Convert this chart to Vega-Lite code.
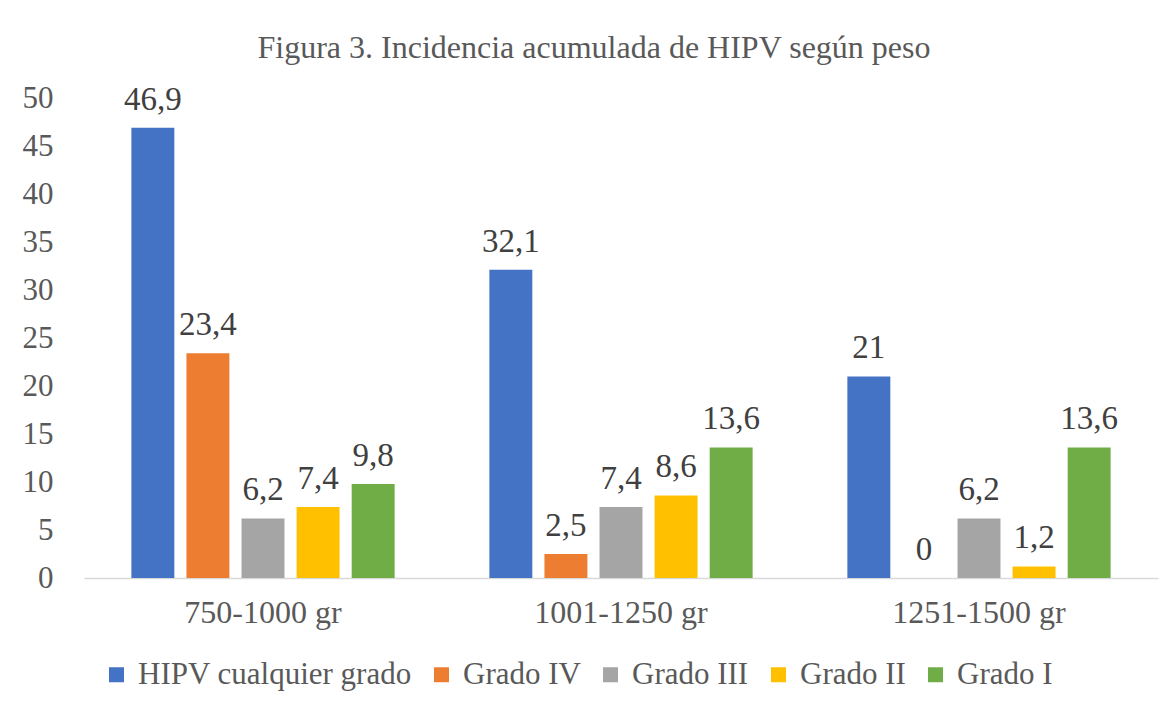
{
  "$schema": "https://vega.github.io/schema/vega-lite/v6.json",
  "width": 1074,
  "height": 480,
  "autosize": {"type": "none"},
  "padding": {"left": 84, "top": 98, "right": 17, "bottom": 134},
  "background": "white",
  "config": {
    "locale": {"number": {"decimal": ",", "thousands": ".", "grouping": [3], "currency": ["", " €"]}},
    "view": {"stroke": null},
    "font": "Liberation Serif"
  },
  "title": {
    "text": "Figura 3. Incidencia acumulada de HIPV según peso",
    "font": "Liberation Serif",
    "fontSize": 32,
    "fontWeight": "normal",
    "color": "#595959",
    "anchor": "middle",
    "dx": -27,
    "offset": 17
  },
  "data": {
    "values": [
      {"peso": "750-1000 gr", "serie": "HIPV cualquier grado", "valor": 46.9},
      {"peso": "750-1000 gr", "serie": "Grado IV", "valor": 23.4},
      {"peso": "750-1000 gr", "serie": "Grado III", "valor": 6.2},
      {"peso": "750-1000 gr", "serie": "Grado II", "valor": 7.4},
      {"peso": "750-1000 gr", "serie": "Grado I", "valor": 9.8},
      {"peso": "1001-1250 gr", "serie": "HIPV cualquier grado", "valor": 32.1},
      {"peso": "1001-1250 gr", "serie": "Grado IV", "valor": 2.5},
      {"peso": "1001-1250 gr", "serie": "Grado III", "valor": 7.4},
      {"peso": "1001-1250 gr", "serie": "Grado II", "valor": 8.6},
      {"peso": "1001-1250 gr", "serie": "Grado I", "valor": 13.6},
      {"peso": "1251-1500 gr", "serie": "HIPV cualquier grado", "valor": 21},
      {"peso": "1251-1500 gr", "serie": "Grado IV", "valor": 0},
      {"peso": "1251-1500 gr", "serie": "Grado III", "valor": 6.2},
      {"peso": "1251-1500 gr", "serie": "Grado II", "valor": 1.2},
      {"peso": "1251-1500 gr", "serie": "Grado I", "valor": 13.6}
    ]
  },
  "encoding": {
    "x": {
      "field": "peso",
      "type": "nominal",
      "sort": ["750-1000 gr", "1001-1250 gr", "1251-1500 gr"],
      "scale": {"paddingInner": 0, "paddingOuter": 0},
      "axis": {
        "title": null,
        "labelAngle": 0,
        "labelFont": "Liberation Serif",
        "labelFontSize": 32,
        "labelColor": "#595959",
        "labelPadding": 19,
        "ticks": false,
        "domain": true,
        "domainColor": "#d9d9d9",
        "domainWidth": 1.5
      }
    },
    "xOffset": {
      "field": "serie",
      "type": "nominal",
      "sort": ["HIPV cualquier grado", "Grado IV", "Grado III", "Grado II", "Grado I"],
      "scale": {"paddingInner": 0.22, "paddingOuter": 0.86}
    },
    "y": {
      "field": "valor",
      "type": "quantitative",
      "scale": {"domain": [0, 50], "nice": false},
      "axis": {
        "title": null,
        "values": [0, 5, 10, 15, 20, 25, 30, 35, 40, 45, 50],
        "labelFont": "Liberation Serif",
        "labelFontSize": 31,
        "labelColor": "#595959",
        "labelPadding": 31,
        "ticks": false,
        "domain": false,
        "grid": false
      }
    }
  },
  "layer": [
    {
      "mark": {"type": "bar"},
      "encoding": {
        "color": {
          "field": "serie",
          "type": "nominal",
          "sort": ["HIPV cualquier grado", "Grado IV", "Grado III", "Grado II", "Grado I"],
          "scale": {
            "domain": ["HIPV cualquier grado", "Grado IV", "Grado III", "Grado II", "Grado I"],
            "range": ["#4472C4", "#ED7D31", "#A5A5A5", "#FFC000", "#70AD47"]
          },
          "legend": {
            "title": null,
            "orient": "none",
            "legendX": 17,
            "legendY": 561,
            "direction": "horizontal",
            "columns": 5,
            "symbolType": "square",
            "symbolSize": 225,
            "symbolStrokeWidth": 0,
            "symbolOpacity": 1,
            "labelFont": "Liberation Serif",
            "labelFontSize": 31,
            "labelColor": "#595959",
            "labelOffset": 6,
            "columnPadding": 14,
            "labelLimit": 400
          }
        }
      }
    },
    {
      "mark": {
        "type": "text",
        "baseline": "bottom",
        "dy": -11,
        "font": "Liberation Serif",
        "fontSize": 33,
        "color": "#404040"
      },
      "encoding": {
        "text": {"field": "valor", "type": "quantitative", "format": "~g"}
      }
    }
  ]
}
